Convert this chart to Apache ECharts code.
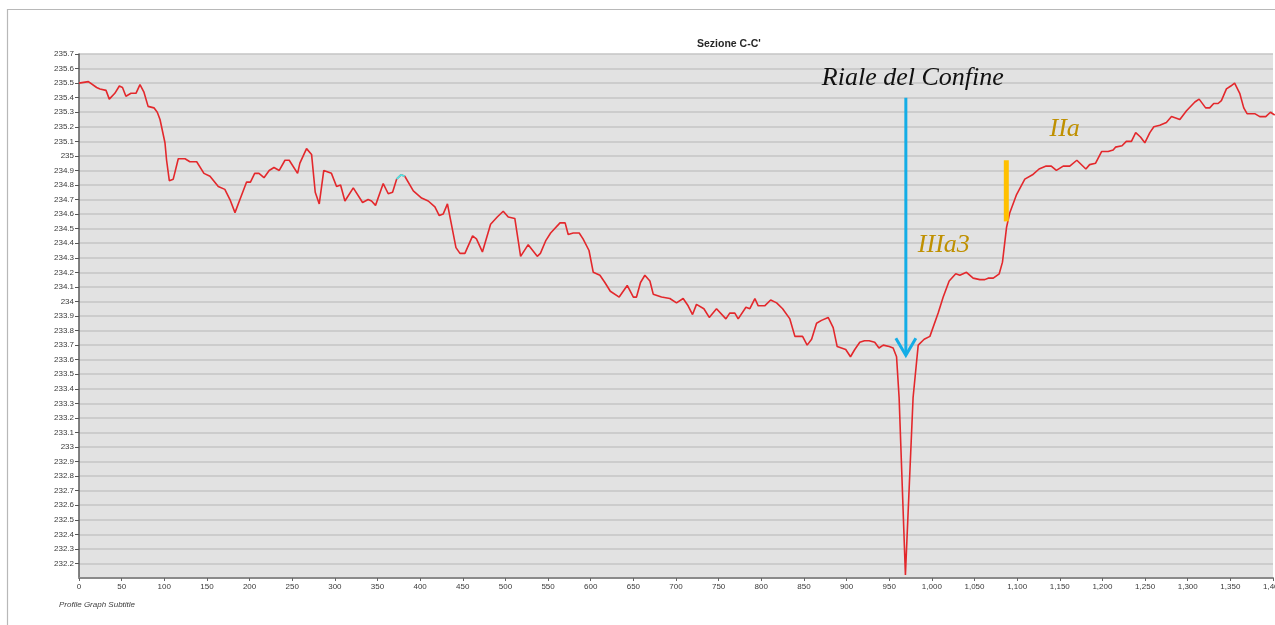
<!DOCTYPE html>
<html>
<head>
<meta charset="utf-8">
<title>Sezione C-C'</title>
<script src="https://cdn.jsdelivr.net/npm/echarts@6/dist/echarts.min.js"></script>
<style>
  html, body { margin: 0; padding: 0; background: #fff; }
  #chart { width: 1275px; height: 625px; }
</style>
</head>
<body>
<div id="chart"></div>
<script>
// profile distance (m) and ground elevation (m)
const distances = [
  0, 11, 20.7, 24.6, 31.7, 35.5, 42, 47.3, 51, 55, 61, 66.8, 71.5, 76, 81, 87.9, 91.8, 95,
  100.8, 102.7, 105.9, 110.5, 116.4, 124.3, 130, 138, 146.5, 153.6, 163.3, 171, 177, 182.9,
  188.7, 196.5, 201, 206, 211, 216.9, 223, 228.6, 234.8, 241.5, 246.5, 256.3, 259, 266.8,
  272.7, 277, 281.7, 287, 296, 302, 306.7, 311.8, 321.6, 332.5, 339, 343, 347.7, 356.7,
  362.6, 367.7, 372.4, 377.5, 382, 392, 401.7, 409.5, 417.3, 422.4, 427, 432, 442, 446.7,
  452.5, 461.5, 466, 473, 482.6, 490.4, 497.4, 503.3, 511, 517.8, 526.7, 537.3, 541, 547.5,
  553, 564, 570, 573.6, 579.5, 586.5, 591, 598, 603, 610.8, 616.6, 623, 633.4, 642.8, 650,
  653.7, 658.4, 663.5, 669.4, 673.3, 683, 692.8, 700.6, 708.4, 714.2, 719.4, 724, 732.7,
  739, 747.5, 758.5, 763, 769, 772.9, 782, 786.6, 792.5, 796.4, 804, 811, 818, 825, 833.5,
  839.4, 844.4, 848.4, 853.8, 859, 864.8, 870.6, 878.4, 884.3, 889, 894, 899, 904.6, 909.6,
  915.5, 921, 926.5, 933, 938, 943, 950, 954.6, 958.6, 961.6, 969, 978, 984, 991, 997.7,
  1007.4, 1013.3, 1020.3, 1028, 1032.8, 1040.6, 1048.4, 1056.3, 1062, 1066, 1072, 1079,
  1082.8, 1087.6, 1091.4, 1099, 1109, 1118, 1125.7, 1134, 1140, 1146, 1154, 1161.7, 1170,
  1180.6, 1185, 1192, 1199, 1206.7, 1212.6, 1215.3, 1223, 1228, 1234, 1239, 1244.6, 1249.7,
  1255.6, 1260.3, 1267.3, 1275, 1281, 1290.8, 1298.6, 1308.4, 1313.4, 1321, 1325.8, 1330.5,
  1335.6, 1339.5, 1345.4, 1350.5, 1355, 1361, 1365.7, 1369.6, 1378.6, 1384.5, 1391.5, 1397, 1402
];
const elevations = [
  235.50, 235.51, 235.47, 235.46, 235.45, 235.39, 235.43, 235.48, 235.47, 235.41, 235.43, 235.43,
  235.49, 235.44, 235.34, 235.33, 235.30, 235.25, 235.09, 234.97, 234.83, 234.84, 234.98, 234.98,
  234.96, 234.96, 234.88, 234.86, 234.79, 234.77, 234.70, 234.61, 234.70, 234.82, 234.82, 234.88,
  234.88, 234.85, 234.90, 234.92, 234.90, 234.97, 234.97, 234.88, 234.95, 235.05, 235.01, 234.75,
  234.67, 234.90, 234.88, 234.79, 234.80, 234.69, 234.78, 234.68, 234.70, 234.69, 234.66, 234.81,
  234.74, 234.75, 234.84, 234.87, 234.86, 234.76, 234.71, 234.69, 234.65, 234.59, 234.60, 234.67,
  234.37, 234.33, 234.33, 234.45, 234.43, 234.34, 234.53, 234.58, 234.62, 234.58, 234.57, 234.31,
  234.39, 234.31, 234.33, 234.42, 234.47, 234.54, 234.54, 234.46, 234.47, 234.47, 234.43, 234.35,
  234.20, 234.18, 234.13, 234.07, 234.03, 234.11, 234.03, 234.03, 234.13, 234.18, 234.14, 234.05,
  234.03, 234.02, 233.99, 234.02, 233.97, 233.91, 233.98, 233.95, 233.89, 233.95, 233.88, 233.92,
  233.92, 233.88, 233.96, 233.95, 234.02, 233.97, 233.97, 234.01, 233.99, 233.95, 233.88, 233.76,
  233.76, 233.76, 233.70, 233.74, 233.85, 233.87, 233.89, 233.82, 233.69, 233.68, 233.67, 233.62,
  233.67, 233.72, 233.73, 233.73, 233.72, 233.68, 233.70, 233.69, 233.68, 233.62, 233.34, 232.12,
  233.34, 233.70, 233.74, 233.76, 233.92, 234.03, 234.14, 234.19, 234.18, 234.20, 234.16, 234.15,
  234.15, 234.16, 234.16, 234.19, 234.27, 234.51, 234.61, 234.73, 234.84, 234.87, 234.91, 234.93,
  234.93, 234.90, 234.93, 234.93, 234.97, 234.91, 234.94, 234.95, 235.03, 235.03, 235.04, 235.06,
  235.07, 235.10, 235.10, 235.16, 235.13, 235.09, 235.16, 235.20, 235.21, 235.23, 235.27, 235.25,
  235.31, 235.37, 235.39, 235.33, 235.33, 235.36, 235.36, 235.38, 235.46, 235.48, 235.50, 235.43,
  235.33, 235.29, 235.29, 235.27, 235.27, 235.30, 235.28
];
// the small cyan highlighted piece near 375 m
const highlightFrom = 372.4;
const highlightTo = 382;

const xMin = 0, xMax = 1400, xStep = 50;
const yMin = 232.1, yMax = 235.7, yStep = 0.1;

const profile = distances.map((d, i) => [d, elevations[i]]);
const highlight = profile.filter(p => p[0] >= highlightFrom && p[0] <= highlightTo);

const chart = echarts.init(document.getElementById('chart'), null, { renderer: 'canvas' });

const option = {
    backgroundColor: '#ffffff',
    animation: false,
    title: [
        {
            text: "Sezione C-C'",
            left: 692,
            top: 34,
            textStyle: { fontFamily: 'Liberation Sans', fontSize: 10.5, fontWeight: 'bold', color: '#262626' }
        },
        {
            text: 'Profile Graph Subtitle',
            left: 54,
            top: 596,
            textStyle: { fontFamily: 'Liberation Sans', fontSize: 8, fontStyle: 'italic', fontWeight: 'normal', color: '#404040' }
        }
    ],
    grid: {
        left: 79,
        right: 2,
        top: 54,
        bottom: 47,
        containLabel: false,
        outerBoundsMode: 'none',
        show: true,
        backgroundColor: '#e2e2e2',
        borderWidth: 0
    },
    xAxis: {
        type: 'value',
        min: xMin,
        max: xMax,
        interval: xStep,
        axisLine: { show: true, onZero: false, lineStyle: { color: '#8a8a8a', width: 2 } },
        axisTick: { show: true, length: 3, lineStyle: { color: '#666' } },
        axisLabel: {
            margin: 5,
            fontFamily: 'Liberation Sans',
            fontSize: 8,
            color: '#3a3a3a',
            hideOverlap: false,
            formatter: v => v.toLocaleString('en-US')
        },
        splitLine: { show: false }
    },
    yAxis: {
        type: 'value',
        min: yMin,
        max: yMax,
        interval: yStep,
        axisLine: { show: true, lineStyle: { color: '#5a5a5a', width: 1.5 } },
        axisTick: { show: true, length: 4, lineStyle: { color: '#555' } },
        axisLabel: {
            margin: 5,
            fontFamily: 'Liberation Sans',
            fontSize: 8,
            color: '#3a3a3a',
            showMinLabel: false,
            formatter: v => String(Math.round(v * 10) / 10)
        },
        splitLine: { show: true, lineStyle: { color: '#c4c4c4', width: 1.6 } }
    },
    series: [
        {
            name: 'Profilo',
            type: 'line',
            data: profile,
            showSymbol: false,
            symbol: 'none',
            lineStyle: { color: '#e3282c', width: 1.6 },
            z: 3
        },
        {
            name: 'Selezione',
            type: 'line',
            data: highlight,
            showSymbol: false,
            symbol: 'none',
            lineStyle: { color: '#4fe6e6', width: 1.8 },
            z: 4
        }
    ],
    graphic: [
        { id: 'frameTop', type: 'line', shape: { x1: 7, y1: 9.5, x2: 1275, y2: 9.5 }, style: { stroke: '#b8b8b8', lineWidth: 1.2 } },
        { id: 'frameLeft', type: 'line', shape: { x1: 7.5, y1: 9, x2: 7.5, y2: 625 }, style: { stroke: '#b8b8b8', lineWidth: 1.2 } }
    ]
};

chart.setOption(option);

// annotations placed in data coordinates and converted through the chart's own scales
const px = (x, y) => chart.convertToPixel({ gridIndex: 0 }, [x, y]);
const arrowTop = px(969.5, 235.40);
const arrowTip = px(969.5, 233.63);
const barTop = px(1087.3, 234.97);
const barBottom = px(1087.3, 234.55);
const rialePos = px(871, 235.535);
const iiaPos = px(1138, 235.185);
const iiia3Pos = px(983.6, 234.39);

const serif = 'Liberation Serif, "Times New Roman", serif';

chart.setOption({
    graphic: [
        {
            id: 'arrowShaft', type: 'line', z: 10,
            shape: { x1: arrowTop[0], y1: arrowTop[1], x2: arrowTip[0], y2: arrowTip[1] - 1 },
            style: { stroke: '#14ade6', lineWidth: 3 }
        },
        {
            id: 'arrowHead', type: 'polyline', z: 10,
            shape: { points: [[arrowTip[0] - 10, arrowTip[1] - 17], [arrowTip[0], arrowTip[1]], [arrowTip[0] + 10, arrowTip[1] - 17]] },
            style: { stroke: '#14ade6', lineWidth: 3, fill: null }
        },
        {
            id: 'orangeBar', type: 'line', z: 10,
            shape: { x1: barTop[0], y1: barTop[1], x2: barBottom[0], y2: barBottom[1] },
            style: { stroke: '#ffc000', lineWidth: 5 }
        },
        {
            id: 'riale', type: 'text', z: 11,
            x: rialePos[0], y: rialePos[1],
            style: { text: 'Riale del Confine', font: 'italic 26px ' + serif, fill: '#111', textVerticalAlign: 'middle' }
        },
        {
            id: 'iia', type: 'text', z: 11,
            x: iiaPos[0], y: iiaPos[1],
            style: { text: 'IIa', font: 'italic 26px ' + serif, fill: '#bf9000', textVerticalAlign: 'middle' }
        },
        {
            id: 'iiia3', type: 'text', z: 11,
            x: iiia3Pos[0], y: iiia3Pos[1],
            style: { text: 'IIIa3', font: 'italic 26px ' + serif, fill: '#bf9000', textVerticalAlign: 'middle' }
        }
    ]
});
</script>
</body>
</html>
